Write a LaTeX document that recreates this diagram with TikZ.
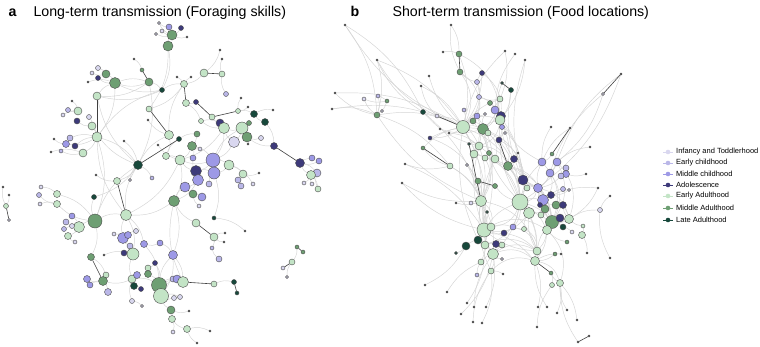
\documentclass[tikz,border=0pt]{standalone}
\usepackage{fontspec}
\setmainfont{Liberation Sans}
\pgfdeclarelayer{back}
\pgfdeclarelayer{bg}
\pgfsetlayers{back,bg,main}
\definecolor{inf}{HTML}{D9D7EF}
\definecolor{ec}{HTML}{BAB7E8}
\definecolor{mc}{HTML}{9D99E6}
\definecolor{ad}{HTML}{3D3A7A}
\definecolor{eg}{HTML}{C3E4C6}
\definecolor{mg}{HTML}{6E9F73}
\definecolor{la}{HTML}{17483B}
\definecolor{tn}{HTML}{555555}
\tikzset{
  nd/.style={circle,draw=black!70,line width=0.4pt,inner sep=0pt},
  gedge/.style={draw=black!17,line width=0.45pt},
  dedge/.style={draw=black!75,line width=0.6pt},
  ttl/.style={anchor=base west,font=\fontsize{14.2}{16}\selectfont},
  lgt/.style={anchor=west,font=\fontsize{7.5}{8}\selectfont,inner sep=0pt},
}
\begin{document}
\begin{tikzpicture}[x=1pt,y=-1pt]
\useasboundingbox (0,0) rectangle (760,346);
\begin{pgfonlayer}{back}
\fill[white] (0,0) rectangle (760,346);
\end{pgfonlayer}
% titles
\node[ttl,font=\fontsize{14.2}{16}\selectfont\bfseries] (la) at (5,16) {a};
\node[ttl] (ta) at (30,16) {Long-term transmission (Foraging skills)};
\node[ttl,font=\fontsize{14.2}{16}\selectfont\bfseries] (lb) at (347,16) {b};
\node[ttl] (tb) at (389,16) {Short-term transmission (Food locations)};
% ---------- panel a nodes
\foreach \n/\x/\y/\c/\r in {
a1/172/35/mg/5, a2/169/27/mc/3, a3/181/28/ad/2.5, a4/159/23/inf/1.5, a5/162/31/inf/2, a6/156/34/inf/1.5, a7/187/37/tn/1, a8/168/46/mg/5,
a9/134/59/tn/1, a10/142/70/mg/2, a11/149/82/mg/4, a12/162/90/la/2.5, a13/220/50/tn/1, a14/222/59/tn/1, a15/204/73/eg/4, a16/222/74/eg/3,
a17/177/77/tn/1, a18/184/84/eg/3.5, a19/191/77/tn/1, a20/186/103/eg/3.5, a21/196/102/ad/2.5, a22/226/94/ec/2.5, a23/98/68/inf/2.5, a24/92/73/inf/2,
a25/106/74/mg/4, a26/98/78/ad/2.5, a27/88/82/tn/1, a28/115/83/mg/5.5, a29/97/96/eg/4, a30/72/101/tn/1, a31/68/110/ec/2.5, a32/78/111/eg/4,
a33/63/115/inf/2, a34/77/121/ad/3, a35/89/117/inf/2.5, a36/92/126/eg/4, a37/97/137/eg/5, a38/54/139/tn/1, a39/70/138/ec/3, a40/66/144/mc/3.5,
a41/75/146/ad/3, a42/61/151/ec/2, a43/51/152/tn/1, a44/83/153/eg/4, a45/124/141/tn/1, a46/149/109/eg/3, a47/148/120/tn/1, a48/169/135/eg/4.5,
a49/179/139/la/2.5, a50/158/145/tn/1, a51/138/165/la/4.5, a52/96/175/tn/1, a53/117/181/eg/3.5, a54/130/180/inf/1.5, a55/152/178/ec/2, a56/166/156/eg/3.5,
a57/180/160/eg/5, a58/197/134/mg/3, a59/192/146/mg/4.5, a60/200/149/inf/2, a61/193/158/mc/3, a62/201/121/eg/2.5, a63/212/117/eg/3, a64/220/123/ad/4,
a65/224/128/eg/5.5, a66/238/111/eg/2.5, a67/248/107/tn/1, a68/241/98/tn/1, a69/254/114/la/3.5, a70/265/122/la/3.5, a71/273/110/tn/1, a72/249/123/mg/2.5,
a73/242/128/eg/6, a74/247/137/mg/5, a75/234/142/inf/5.5, a76/261/138/inf/2.5, a77/248/144/tn/1, a78/274/146/ad/3.5, a79/300/163/ad/4.5, a80/312/158/mc/3,
a81/319/161/mc/3, a82/317/173/ec/4, a83/311/175/eg/4.5, a84/304/183/inf/2, a85/312/184/inf/2, a86/318/189/eg/3, a87/213/160/mc/7, a88/214/173/mc/6,
a89/196/171/ad/5.5, a90/198/180/mc/5.5, a91/229/165/eg/5, a92/243/174/eg/4, a93/259/173/tn/1, a94/238/180/ec/3, a95/241/186/ec/3, a96/253/184/inf/2,
a97/209/184/ec/3, a98/185/187/mc/5, a99/193/194/mg/4, a100/202/197/mc/4, a101/199/206/inf/2, a102/174/201/mg/5.5, a103/214/218/la/2, a104/245/231/tn/1,
a105/196/223/eg/4, a106/214/237/eg/4, a107/225/233/tn/1, a108/224/242/tn/1, a109/212/248/ec/2, a110/219/259/ec/3, a111/173/255/mc/4.5, a112/160/243/mc/3,
a113/144/244/mc/3.5, a114/126/215/eg/5.5, a115/94/197/la/2.5, a116/57/194/eg/3.5, a117/57/204/eg/3.5, a118/41/187/inf/2, a119/39/195/ec/2.5, a120/40/204/inf/2,
a121/95/221/mg/7, a122/79/227/eg/5.5, a123/72/226/inf/2.5, a124/72/216/mc/3, a125/66/222/ec/3, a126/64/229/ec/2.5, a127/68/236/eg/3.5, a128/75/242/inf/2,
a129/114/234/inf/2, a130/123/238/mc/5.5, a131/128/235/mc/3.5, a132/136/231/inf/2.5, a133/130/246/ec/3, a134/133/254/eg/6, a135/124/253/ad/3, a136/104/255/tn/1,
a137/91/257/mg/3.5, a138/155/263/ad/2.5, a139/148/268/eg/3, a140/148/274/mg/3.5, a141/106/275/eg/3, a142/103/281/mg/4.5, a143/87/279/mc/3.5, a144/90/285/mc/3,
a145/108/292/ec/3.5, a146/132/279/eg/4, a147/137/275/mc/3.5, a148/134/286/la/3.5, a149/141/289/ad/2.5, a150/132/301/inf/2.5, a151/142/306/inf/1.5, a152/159/285/mg/7.5,
a153/161/296/eg/7.5, a154/173/279/ec/3, a155/177/279/mc/4, a156/183/282/eg/5.5, a157/214/284/eg/3, a158/234/282/la/2.5, a159/237/293/la/2, a160/174/298/inf/2.5,
a161/180/297/inf/2.5, a162/171/310/mg/4, a163/172/319/eg/3.5, a164/173/332/inf/2, a165/187/329/eg/3.5, a166/189/311/tn/1, a167/210/331/tn/1, a168/197/343/tn/1,
a169/6/206/eg/2.5, a170/3/187/tn/1, a171/9/195/tn/1, a172/9/220/inf/1.5, a173/297/247/mg/2, a174/303/252/mg/2, a175/292/262/eg/3, a176/283/268/inf/2, a177/287/277/inf/1.5}
{\node[nd,fill=\c,minimum size={2*\r pt}] (\n) at (\x,\y) {};}
% ---------- panel b nodes
\foreach \n/\x/\y/\c/\r in {
b1/451/25/tn/1, b2/459/54/mg/3, b3/460/72/mg/3, b4/443/52/tn/1, b5/345/25/tn/1, b6/377/60/tn/1, b7/505/51/tn/1, b8/515/54/tn/1,
b9/525/60/tn/1, b10/482/73/ad/2.5, b11/477/82/ec/2.5, b12/502/83/la/1.5, b13/511/90/la/2.5, b14/479/97/ec/2.5, b15/500/99/eg/3, b16/490/103/mg/2.5,
b17/495/110/mc/4, b18/501/116/ad/4.5, b19/500/120/eg/5, b20/477/116/mc/3, b21/464/110/ec/2, b22/485/114/inf/1.5, b23/473/121/mg/3, b24/502/127/mc/2.5,
b25/463/127/eg/6.5, b26/483/129/mg/5.5, b27/488/133/eg/3, b28/505/133/inf/1.5, b29/499/140/ad/3, b30/437/116/inf/2, b31/423/112/la/2.5, b32/364/99/inf/2,
b33/378/96/ec/2, b34/387/101/mg/2, b35/382/111/inf/1.5, b36/377/115/mg/3, b37/335/93/tn/1, b38/332/109/tn/1, b39/429/76/tn/1, b40/421/86/tn/1,
b41/430/138/ad/2, b42/440/129/tn/1, b43/449/133/tn/1, b44/469/144/la/1.5, b45/423/148/mg/2, b46/450/166/eg/3, b47/405/164/tn/1, b48/479/146/eg/4,
b49/474/154/eg/4, b50/485/158/eg/3, b51/489/153/mg/2.5, b52/495/159/eg/4, b53/508/166/mg/4.5, b54/514/159/ad/3.5, b55/518/153/tn/1, b56/467/165/inf/1.5,
b57/402/183/tn/1, b58/478/181/mg/3, b59/495/186/mg/2.5, b60/523/180/ad/5, b61/527/188/eg/3, b62/538/188/mc/4.5, b63/542/162/mc/4, b64/557/162/mc/4,
b65/566/168/ec/3, b66/550/173/mc/4, b67/566/174/mc/3.5, b68/561/176/ec/3, b69/551/127/tn/1, b70/570/128/tn/1, b71/552/154/mg/2, b72/590/147/tn/1,
b73/586/174/tn/1, b74/563/189/ec/2.5, b75/569/190/inf/1.5, b76/551/195/ad/3.5, b77/543/200/mc/5.5, b78/540/205/ad/2.5, b79/556/205/mg/4, b80/563/205/ad/3.5,
b81/520/202/eg/8, b82/529/213/eg/5.5, b83/545/209/mg/4, b84/541/215/eg/3, b85/481/201/eg/5.5, b86/471/203/inf/2, b87/456/203/tn/1, b88/487/212/la/1.5,
b89/552/222/mg/6.5, b90/560/218/ad/4, b91/569/219/eg/4.5, b92/563/227/la/3, b93/547/230/eg/4.5, b94/572/232/inf/2, b95/583/226/eg/2, b96/582/235/eg/3.5,
b97/600/210/inf/2.5, b98/598/188/tn/1, b99/610/196/tn/1, b100/484/230/eg/7, b101/491/227/eg/4, b102/504/233/ad/3, b103/513/227/mc/3, b104/524/229/eg/2.5,
b105/478/240/la/4, b106/466/246/la/4, b107/456/253/la/1.5, b108/485/245/eg/4, b109/496/244/ad/3.5, b110/502/245/eg/3, b111/493/254/eg/5.5, b112/481/262/eg/3,
b113/491/271/eg/3, b114/502/259/inf/1.5, b115/503/274/tn/1, b116/477/275/ec/2, b117/537/251/eg/4, b118/535/261/eg/4.5, b119/555/254/mg/2, b120/561/254/tn/1,
b121/551/273/mg/2, b122/552/285/eg/2.5, b123/560/283/eg/3.5, b124/567/242/mg/2, b125/587/253/tn/1, b126/610/258/tn/1, b127/603/94/inf/1.5, b128/621/74/tn/1,
b129/577/320/tn/1, b130/589/336/tn/1, b131/578/342/tn/1, b132/425/285/tn/1, b133/447/292/tn/1, b134/461/314/tn/1, b135/473/322/tn/1, b136/482/323/tn/1,
b137/474/307/tn/1, b138/486/307/tn/1, b139/537/327/tn/1, b140/538/307/tn/1, b141/547/307/tn/1, b142/557/313/tn/1, b143/567/310/tn/1, b144/467/303/tn/1}
{\node[nd,fill=\c,minimum size={2*\r pt}] (\n) at (\x,\y) {};}
% ---------- edges
\begin{pgfonlayer}{bg}
\foreach \s/\t in {
a1/a2,a1/a4,a1/a5,a1/a6,a2/a4,a8/a12,a9/a10,a11/a12,a11/a28,a12/a18,a12/a29,a13/a15,a15/a18,a17/a18,a18/a46,a20/a62,a66/a68,a66/a69,a69/a71,a70/a78,
a79/a80,a79/a82,a83/a84,a83/a86,a23/a25,a25/a28,a27/a28,a12/a28,a30/a32,a33/a32,a35/a36,a36/a37,a39/a37,a41/a37,a43/a44,a37/a51,a45/a51,a48/a56,
a49/a58,a56/a57,a58/a59,a59/a61,a62/a64,a64/a65,a72/a73,a73/a75,a74/a77,a75/a87,a87/a89,a89/a90,a91/a92,a92/a94,a91/a96,a90/a98,a99/a100,a90/a102,
a102/a114,a103/a104,a106/a107,a106/a109,a102/a111,a112/a113,a51/a53,a54/a51,a51/a115,a116/a121,a118/a116,a120/a117,a122/a123,a122/a125,a122/a127,
a121/a137,a129/a130,a131/a132,a133/a134,a136/a134,a137/a141,a142/a143,a142/a145,a146/a147,a148/a149,a150/a151,a152/a153,a138/a139,a140/a152,
a152/a155,a157/a158,a153/a161,a162/a163,a163/a164,a165/a167,a152/a111,a113/a152,a57/a114,a121/a114,a169/a170,a173/a175,a11/a51,a8/a46,a28/a37,
a37/a121,a114/a134,a57/a102,a88/a103,a21/a20,a65/a87,a87/a91,a87/a73,a59/a87,a102/a98,a121/a51,a152/a156}
{\draw[gedge] (\s) to[bend left=18] (\t);}
\foreach \s/\t in {
a1/a3,a1/a7,a1/a8,a11/a28,a14/a16,a16/a22,a19/a18,a66/a67,a69/a70,a79/a81,a79/a83,a83/a85,a82/a86,a24/a25,a26/a28,a28/a29,a31/a32,a34/a36,a38/a40,
a40/a37,a42/a44,a44/a37,a36/a51,a47/a48,a49/a56,a50/a57,a57/a59,a59/a60,a57/a87,a61/a89,a63/a64,a65/a73,a73/a74,a74/a76,a74/a78,a87/a88,a88/a89,
a88/a91,a92/a93,a92/a95,a88/a97,a98/a99,a99/a101,a102/a105,a106/a108,a109/a110,a111/a112,a113/a114,a52/a53,a55/a51,a115/a121,a117/a121,a119/a117,
a121/a122,a122/a124,a122/a126,a127/a128,a114/a130,a130/a131,a130/a133,a134/a135,a134/a146,a142/a141,a142/a144,a142/a146,a146/a148,a146/a150,
a152/a146,a152/a138,a139/a140,a152/a154,a155/a156,a153/a160,a153/a162,a162/a166,a163/a165,a165/a168,a156/a111,a48/a51,a169/a171,a175/a177,a12/a37,
a29/a51,a62/a65,a18/a48,a57/a65,a51/a114,a102/a156,a37/a114,a29/a11,a65/a75,a57/a89,a153/a111}
{\draw[gedge] (\s) to[bend right=18] (\t);}
\foreach \s/\t in {
b1/b2,b4/b2,b3/b14,b5/b31,b6/b25,b7/b15,b9/b19,b11/b14,b13/b19,b14/b16,b16/b17,b18/b19,b21/b25,b23/b26,b25/b26,b27/b29,b31/b30,b33/b34,b33/b36,
b34/b36,b38/b36,b36/b25,b40/b25,b41/b26,b43/b48,b45/b25,b46/b85,b49/b50,b51/b52,b54/b55,b56/b85,b58/b85,b60/b81,b62/b60,b64/b66,b66/b62,b68/b62,
b71/b63,b73/b67,b75/b76,b77/b78,b79/b80,b81/b82,b81/b77,b83/b84,b89/b90,b89/b92,b92/b94,b95/b96,b98/b91,b100/b101,b100/b108,b101/b103,b104/b82,
b106/b105,b108/b109,b108/b111,b111/b113,b113/b115,b117/b118,b119/b118,b121/b122,b124/b93,b126/b97,b127/b64,b131/b123,b133/b112,b135/b113,b137/b111,
b139/b122,b141/b118,b143/b123,b25/b85,b19/b60,b48/b85,b81/b89,b53/b81,b25/b100,b48/b81,b85/b108,b81/b117,b93/b118,b102/b117,b18/b29,b26/b53,
b6/b36,b5/b36,b2/b25,b10/b25,b15/b26,b19/b53,b85/b111,b100/b118,b81/b93,b60/b77,b26/b100,b31/b85,b36/b46,b128/b62,b62/b89,b64/b81,b17/b60,
b14/b20,b20/b48,b29/b81,b85/b105,b100/b112,b81/b111,b82/b118,b37/b25,b38/b25,b47/b100}
{\draw[gedge] (\s) to[bend left=16] (\t);}
\foreach \s/\t in {
b1/b3,b3/b11,b6/b31,b8/b17,b10/b11,b14/b15,b15/b17,b17/b18,b20/b22,b20/b25,b22/b26,b23/b25,b24/b19,b26/b27,b28/b29,b32/b34,b32/b36,b35/b36,b37/b36,
b39/b25,b40/b30,b41/b25,b42/b26,b45/b46,b47/b46,b48/b49,b50/b51,b52/b53,b53/b54,b57/b85,b58/b59,b59/b81,b61/b81,b63/b62,b65/b67,b67/b68,b69/b63,
b72/b64,b74/b76,b76/b77,b77/b79,b80/b91,b81/b100,b82/b83,b83/b89,b89/b91,b89/b93,b91/b95,b97/b91,b99/b97,b100/b102,b100/b85,b103/b104,b105/b100,
b107/b106,b109/b110,b111/b112,b111/b114,b112/b116,b117/b93,b120/b118,b121/b123,b125/b96,b129/b123,b132/b106,b134/b111,b136/b113,b138/b111,
b140/b118,b142/b123,b144/b108,b26/b48,b85/b100,b60/b53,b52/b100,b100/b117,b89/b117,b82/b117,b19/b26,b15/b25,b19/b63,b18/b54,b25/b48,b48/b100,
b5/b25,b6/b30,b13/b60,b9/b60,b63/b81,b19/b81,b85/b113,b100/b111,b77/b89,b62/b83,b25/b105,b26/b81,b36/b85,b31/b48,b127/b66,b128/b64,b7/b25,
b12/b19,b49/b85,b53/b62,b87/b85,b86/b85,b88/b100,b57/b100,b70/b63,b98/b77}
{\draw[gedge] (\s) to[bend right=16] (\t);}
\foreach \s/\t in {
b25/b19,b25/b81,b26/b60,b48/b53,b49/b81,b50/b85,b52/b81,b53/b89,b60/b89,b62/b81,b63/b89,b64/b89,b66/b77,b77/b93,b81/b101,b81/b102,b81/b108,
b85/b101,b85/b117,b100/b93,b108/b117,b111/b118,b93/b123,b118/b123,b19/b48,b17/b26,b14/b25,b11/b25,b10/b19,b2/b19,b3/b25,b30/b48,b41/b85,
b44/b48,b46/b100,b20/b85,b23/b85,b27/b52,b29/b60,b54/b60,b53/b77,b62/b91,b64/b91,b66/b89,b79/b91,b83/b93,b84/b93,b82/b100,b103/b117,b104/b117,
b111/b117,b113/b118}
{\draw[gedge] (\s) to[bend left=30] (\t);}
% dark edges
\foreach \s/\t in {
a29/a37,a46/a48,a51/a49,a21/a63,a63/a66,a78/a79,a53/a114,a137/a142,a156/a157,a158/a159,a10/a11,a15/a16,a18/a20,a105/a106,a169/a172,a173/a174,a175/a176,
b2/b3,b12/b13,b127/b128,b71/b70,b30/b25,b45/b46,b44/b85,b58/b59,b118/b121,b130/b131,b29/b53,b100/b101}
{\draw[dedge] (\s) -- (\t);}
\end{pgfonlayer}
% ---------- legend
\foreach \i/\c/\t/\y in {1/inf/Infancy and Toddlerhood/152, 2/ec/Early childhood/163, 3/mc/Middle childhood/174, 4/ad/Adolescence/185,
  5/eg/Early Adulthood/196, 6/mg/Middle Adulthood/208, 7/la/Late Adulthood/220}
{
  \coordinate (lgl\i) at (663,\y);
  \coordinate (lgr\i) at (673,\y);
  \draw[draw=\c,line width=1pt] (lgl\i) -- (lgr\i);
  \node[circle,fill=\c,inner sep=0pt,minimum size=4.6pt] (lgm\i) at (668,\y) {};
  \node[lgt] (lgt\i) at (676,\y) {\t};
}
\end{tikzpicture}
\end{document}
